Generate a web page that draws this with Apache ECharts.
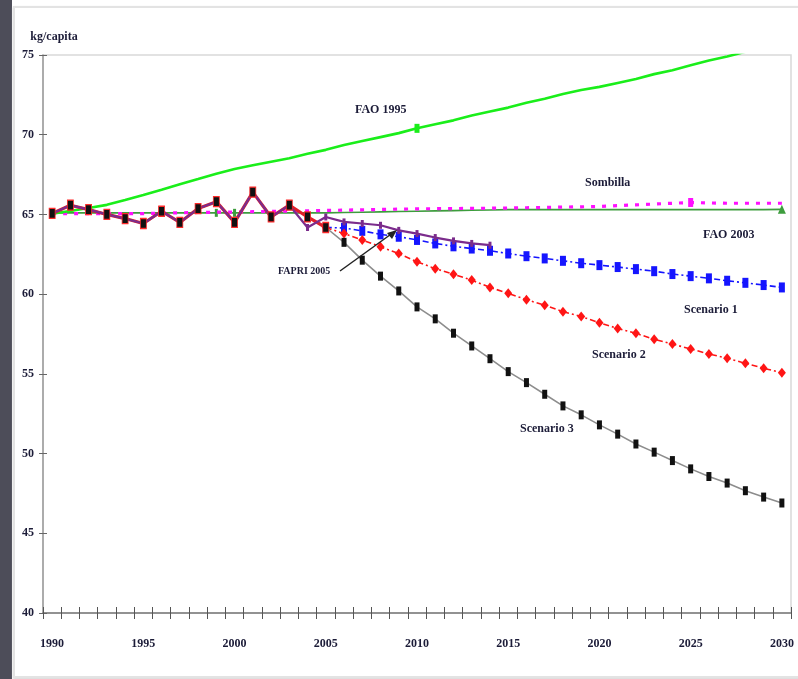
<!DOCTYPE html>
<html>
<head>
<meta charset="utf-8">
<script src="https://cdn.jsdelivr.net/npm/echarts@6/dist/echarts.min.js"></script>
<style>
  html, body { margin: 0; padding: 0; background: #ffffff; }
  #strip { position: absolute; left: 0; top: 0; width: 12px; height: 679px; background: #4d4d59; }
  #panel { position: absolute; left: 13px; top: 6px; width: 783px; height: 668px;
           border: 2px solid #e3e3e3; background: #ffffff; box-shadow: 0 1px 2px #d0d0d0; }
  #chart { position: absolute; left: 0; top: 0; width: 798px; height: 679px; }
</style>
</head>
<body>
<div id="strip"></div>
<div id="panel"></div>
<div id="chart"></div>
<script>
// Years on the category axis
const years = [];
for (let y = 1990; y <= 2030; y++) years.push(String(y));

// Observed consumption 1990-2005 (kg/capita)
const history = [65.06, 65.58, 65.30, 65.00, 64.74, 64.43, 65.20, 64.50, 65.37, 65.80,
                 64.50, 66.40, 64.84, 65.58, 64.84, 64.18];

// Projections 2005-2030
const scenario1 = [64.18, 64.15, 63.97, 63.75, 63.60, 63.40, 63.18, 63.00, 62.86, 62.72,
                   62.55, 62.38, 62.24, 62.09, 61.94, 61.82, 61.70, 61.57, 61.44, 61.26,
                   61.13, 60.99, 60.84, 60.71, 60.57, 60.42];
const scenario2 = [64.18, 63.80, 63.40, 62.97, 62.55, 62.03, 61.60, 61.25, 60.88, 60.42,
                   60.05, 59.65, 59.30, 58.90, 58.60, 58.20, 57.85, 57.54, 57.17, 56.87,
                   56.56, 56.25, 55.98, 55.66, 55.35, 55.07];
const scenario3 = [64.18, 63.25, 62.13, 61.13, 60.20, 59.20, 58.45, 57.55, 56.75, 55.95,
                   55.14, 54.45, 53.72, 52.99, 52.43, 51.80, 51.22, 50.60, 50.09, 49.56,
                   49.04, 48.56, 48.15, 47.67, 47.27, 46.90];

// FAPRI 2005 baseline, 1990-2014
const fapri2005 = [65.06, 65.58, 65.30, 65.00, 64.74, 64.43, 65.20, 64.50, 65.37, 65.80,
                   64.50, 66.40, 64.84, 65.58, 64.18, 64.84, 64.53, 64.43, 64.32, 64.00,
                   63.80, 63.55, 63.34, 63.18, 63.07];

// FAO 1995 outlook, 1990-2030
const fao1995 = [65.05, 65.22, 65.40, 65.60, 65.90, 66.22, 66.55, 66.90, 67.22, 67.55,
                 67.85, 68.08, 68.30, 68.52, 68.80, 69.05, 69.35, 69.60, 69.85, 70.10,
                 70.40, 70.65, 70.90, 71.20, 71.45, 71.70, 72.00, 72.25, 72.55, 72.80,
                 73.00, 73.25, 73.50, 73.80, 74.05, 74.35, 74.65, 74.90, 75.20, 75.45, 75.70];
const fao1995Marked = ['2010'];

// FAO 2003 outlook, 1990-2030
const fao2003 = [65.10, 65.10, 65.10, 65.10, 65.10, 65.10, 65.10, 65.10, 65.10, 65.10,
                 65.10, 65.10, 65.10, 65.10, 65.10, 65.10, 65.12, 65.14, 65.16, 65.18,
                 65.20, 65.22, 65.24, 65.26, 65.28, 65.30, 65.30, 65.30, 65.30, 65.30,
                 65.30, 65.30, 65.30, 65.30, 65.30, 65.30, 65.30, 65.30, 65.30, 65.30, 65.32];
const fao2003Marked = ['1999', '2000'];
const fao2003End = ['2030'];

// Sombilla outlook, 1990-2030
const sombilla = [65.05, 65.05, 65.05, 65.05, 65.05, 65.05, 65.08, 65.10, 65.12, 65.14,
                  65.15, 65.17, 65.19, 65.21, 65.23, 65.25, 65.27, 65.29, 65.31, 65.33,
                  65.35, 65.36, 65.37, 65.38, 65.39, 65.40, 65.42, 65.44, 65.46, 65.48,
                  65.50, 65.55, 65.60, 65.65, 65.70, 65.75, 65.72, 65.70, 65.70, 65.70, 65.70];
const sombillaMarked = ['2025'];

const yTicks = { min: 40, max: 75, step: 5 };

const SERIF = '"Liberation Serif", "DejaVu Serif", serif';
const INK = '#1c1c38';

// Place a block of values on the full year range starting at a given year
function placeFrom(startYear, values) {
  const out = years.map(() => null);
  const off = years.indexOf(String(startYear));
  values.forEach((v, i) => { out[off + i] = v; });
  return out;
}
function withMarks(values, marks) {
  return values.map((v, i) => {
    for (const m of marks) {
      if (m.years.indexOf(years[i]) >= 0) return { value: v, symbol: m.symbol, symbolSize: m.size };
    }
    return v;
  });
}

const chart = echarts.init(document.getElementById('chart'), null, { renderer: 'canvas' });

const catAxisBase = {
  type: 'category', data: years, boundaryGap: true, position: 'bottom'
};
const valAxisBase = {
  type: 'value', min: yTicks.min, max: yTicks.max, interval: yTicks.step, position: 'left'
};

chart.setOption({
  animation: false,
  backgroundColor: 'transparent',
  grid: { left: 43, right: 7, top: 55, bottom: 66, show: true,
          borderColor: '#d9d9d9', borderWidth: 1.5, backgroundColor: 'transparent' },
  xAxis: [
    Object.assign({}, catAxisBase, {
      axisLine: { lineStyle: { color: '#7a7a7a', width: 1.5 } },
      axisTick: { show: true, interval: 0, length: 6, lineStyle: { color: '#555', width: 1 } },
      axisLabel: { interval: 4, margin: 25, color: INK, fontFamily: SERIF,
                   fontWeight: 'bold', fontSize: 12 },
      splitLine: { show: false }
    }),
    Object.assign({}, catAxisBase, {
      axisLine: { show: false },
      axisTick: { show: true, inside: true, interval: 0, length: 6,
                  lineStyle: { color: '#555', width: 1 } },
      axisLabel: { show: false },
      splitLine: { show: false }
    })
  ],
  yAxis: [
    Object.assign({}, valAxisBase, {
      name: 'kg/capita',
      nameLocation: 'end',
      nameGap: 12,
      nameTextStyle: { color: INK, fontFamily: SERIF, fontWeight: 'bold', fontSize: 12,
                       align: 'center', padding: [0, 0, 0, 22] },
      axisLine: { show: true, lineStyle: { color: '#9a9a9a', width: 1.5 } },
      axisTick: { show: true, length: 4, lineStyle: { color: '#666' } },
      axisLabel: { margin: 9, color: INK, fontFamily: SERIF, fontWeight: 'bold', fontSize: 12 },
      splitLine: { show: false }
    }),
    Object.assign({}, valAxisBase, {
      axisLine: { show: false },
      axisTick: { show: true, inside: true, length: 4, lineStyle: { color: '#666' } },
      axisLabel: { show: false },
      splitLine: { show: false }
    })
  ],
  series: [
    {
      name: 'FAO 2003', type: 'line',
      data: withMarks(fao2003, [
        { years: fao2003Marked, symbol: 'rect', size: [3, 8] },
        { years: fao2003End, symbol: 'triangle', size: [8, 9] }
      ]),
      symbol: 'none', showSymbol: true, color: '#3d9d3d',
      lineStyle: { color: '#3d9d3d', width: 1.6 }, itemStyle: { color: '#3d9d3d' }, z: 2
    },
    {
      name: 'Sombilla', type: 'line',
      data: withMarks(sombilla, [{ years: sombillaMarked, symbol: 'rect', size: [5, 9] }]),
      symbol: 'none', showSymbol: true, color: '#ff10ff',
      lineStyle: { color: '#ff10ff', width: 3.2, type: [4, 7] }, itemStyle: { color: '#ff10ff' }, z: 3
    },
    {
      name: 'FAO 1995', type: 'line',
      data: withMarks(fao1995, [{ years: fao1995Marked, symbol: 'rect', size: [5, 9] }]),
      symbol: 'none', showSymbol: true, color: '#1aee1a',
      lineStyle: { color: '#1aee1a', width: 2.6 }, itemStyle: { color: '#1aee1a' }, z: 3
    },
    {
      name: 'Scenario 1', type: 'line', data: placeFrom(2005, scenario1),
      symbol: 'rect', symbolSize: [6, 10], color: '#1515ff',
      lineStyle: { color: '#1515ff', width: 1.6, type: [6, 3, 2, 3] },
      itemStyle: { color: '#1515ff' }, z: 4
    },
    {
      name: 'Scenario 2', type: 'line', data: placeFrom(2005, scenario2),
      symbol: 'diamond', symbolSize: [8, 10], color: '#ff1515',
      lineStyle: { color: '#ff1515', width: 1.6, type: [6, 3, 2, 3] },
      itemStyle: { color: '#ff1515' }, z: 5
    },
    {
      name: 'Scenario 3', type: 'line', data: placeFrom(2005, scenario3),
      symbol: 'rect', symbolSize: [5, 9], color: '#111',
      lineStyle: { color: '#8d8d8d', width: 1.6 }, itemStyle: { color: '#111' }, z: 6
    },
    {
      // observed line, drawn under the FAPRI line
      name: 'History', type: 'line', data: placeFrom(1990, history),
      symbol: 'none', color: '#e0202a',
      lineStyle: { color: '#e0202a', width: 3.2 }, z: 6
    },
    {
      name: 'FAPRI 2005', type: 'line', data: placeFrom(1990, fapri2005),
      symbol: 'rect', symbolSize: [3, 7], color: '#7b2c8c',
      lineStyle: { color: '#7b2c8c', width: 2.2 }, itemStyle: { color: '#7b2c8c' }, z: 7
    },
    {
      // observed points on top
      name: 'History points', type: 'line', data: placeFrom(1990, history),
      symbol: 'rect', symbolSize: [6, 10], color: '#111',
      lineStyle: { width: 0, opacity: 0 },
      itemStyle: { color: '#111', borderColor: '#ff2a2a', borderWidth: 1 }, z: 8
    }
  ],
  graphic: [
    { type: 'text', left: 355, top: 104, z: 20,
      style: { text: 'FAO 1995', font: 'bold 12px ' + SERIF, fill: INK } },
    { type: 'text', left: 585, top: 177, z: 20,
      style: { text: 'Sombilla', font: 'bold 12px ' + SERIF, fill: INK } },
    { type: 'text', left: 703, top: 229, z: 20,
      style: { text: 'FAO 2003', font: 'bold 12px ' + SERIF, fill: INK } },
    { type: 'text', left: 684, top: 304, z: 20,
      style: { text: 'Scenario 1', font: 'bold 12px ' + SERIF, fill: INK } },
    { type: 'text', left: 592, top: 349, z: 20,
      style: { text: 'Scenario 2', font: 'bold 12px ' + SERIF, fill: INK } },
    { type: 'text', left: 520, top: 423, z: 20,
      style: { text: 'Scenario 3', font: 'bold 12px ' + SERIF, fill: INK } },
    { type: 'text', left: 278, top: 266, z: 20,
      style: { text: 'FAPRI 2005', font: 'bold 10px ' + SERIF, fill: INK } },
    { type: 'line', z: 20,
      shape: { x1: 340, y1: 271, x2: 394, y2: 232 },
      style: { stroke: '#222', lineWidth: 1.5 } },
    { type: 'polygon', z: 20,
      shape: { points: [[397, 230], [387, 233], [392, 239]] },
      style: { fill: '#222' } }
  ]
});
</script>
</body>
</html>
